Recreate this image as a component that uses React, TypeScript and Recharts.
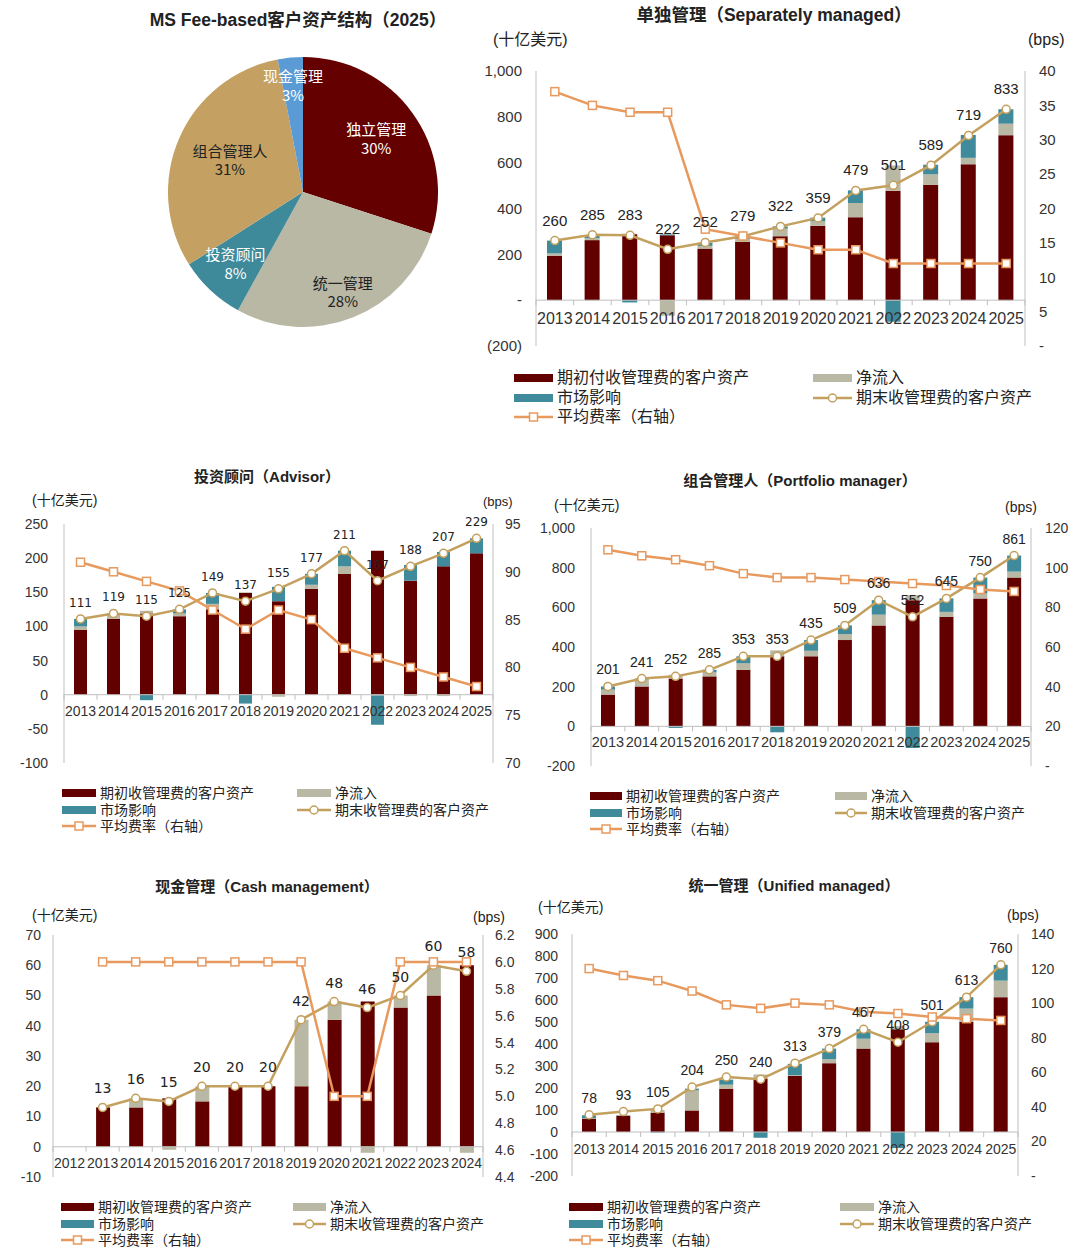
import React from "react";
import { ComposedChart, Bar, Line, XAxis, YAxis, ReferenceLine, LabelList, PieChart, Pie, Cell } from "recharts";

// ---------- 数据 ----------
const years = ["2013", "2014", "2015", "2016", "2017", "2018", "2019", "2020", "2021", "2022", "2023", "2024", "2025"];
const cashYears = ["2012", "2013", "2014", "2015", "2016", "2017", "2018", "2019", "2020", "2021", "2022", "2023", "2024"];

const pieNames = ["独立管理", "统一管理", "投资顾问", "组合管理人", "现金管理"];
const pieValues = [30, 28, 8, 31, 3];

// 单独管理
const smaBegin = [194, 262, 288, 283, 225, 254, 279, 324, 362, 478, 504, 593, 720];
const smaNet = [10, 8, 2, -68, 12, 14, 33, 20, 62, 110, 45, 28, 50];
const smaMarket = [56, 10, -10, 4, 13, 10, 10, 16, 55, -94, 42, 100, 63];
const smaEnd = [260, 285, 283, 222, 252, 279, 322, 359, 479, 501, 589, 719, 833];
const smaFee = [37, 35, 34, 34, 17, 16, 15, 14, 14, 12, 12, 12, 12];

// 投资顾问
const advBegin = [95, 111, 119, 115, 125, 149, 137, 155, 177, 211, 167, 188, 207];
const advNet = [5, 6, 4, 4, 8, 1, -3, 6, 11, -1, -2, -2, 0];
const advMarket = [11, 2, -8, 6, 16, -13, 21, 16, 23, -43, 23, 21, 22];
const advEnd = [111, 119, 115, 125, 149, 137, 155, 177, 211, 167, 188, 207, 229];
const advFee = [91, 90, 89, 88, 86, 84, 86, 85, 82, 81, 80, 79, 78];

// 组合管理人
const pmBegin = [160, 201, 241, 252, 285, 353, 353, 435, 509, 636, 552, 645, 750];
const pmNet = [25, 35, 19, 20, 33, 30, 28, 30, 54, 25, 25, 25, 30];
const pmMarket = [16, 5, -8, 13, 35, -30, 54, 44, 73, -109, 68, 80, 81];
const pmEnd = [201, 241, 252, 285, 353, 353, 435, 509, 636, 552, 645, 750, 861];
const pmFee = [109, 106, 104, 101, 97, 95, 95, 94, 93, 92, 91, 89, 88];

// 现金管理
const cashBegin = [null, 13, 13, 16, 15, 20, 20, 20, 42, 48, 46, 50, 60];
const cashNet = [null, 0, 3, -1, 5, 0, 0, 22, 6, -2, 4, 10, -2];
const cashMarket = [null, 0, 0, 0, 0, 0, 0, 0, 0, 0, 0, 0, 0];
const cashEnd = [null, 13, 16, 15, 20, 20, 20, 42, 48, 46, 50, 60, 58];
const cashFee = [null, 6, 6, 6, 6, 6, 6, 6, 5, 5, 6, 6, 6];

// 统一管理
const umaBegin = [60, 74, 88, 98, 197, 243, 255, 313, 379, 467, 408, 501, 613];
const umaNet = [2, 2, 12, 91, 18, 18, 3, 18, 45, 14, 41, 60, 75];
const umaMarket = [14, 1, -3, 8, 23, -26, 52, 48, 43, -73, 52, 52, 72];
const umaEnd = [78, 93, 105, 204, 250, 240, 313, 379, 467, 408, 501, 613, 760];
const umaFee = [120, 116, 113, 107, 99, 97, 100, 99, 95, 94, 92, 91, 90];

// ---------- 样式 ----------
const FONT_LAT = "'Liberation Sans', Arial, 'Noto Sans CJK SC', sans-serif";
const FONT_CJK = "'Noto Sans CJK SC', 'Liberation Sans', sans-serif";
const FONT_DV = "'DejaVu Sans', sans-serif";

const COL = {
  begin: "#620000",
  net: "#b9b8a5",
  market: "#3f8a9b",
  end: "#c3a05d",
  fee: "#e7995e",
  axis: "#bfbfbf",
  text: "#333333",
};

const pieColors = ["#640000", "#b9b8a5", "#3e8a9a", "#c4a162", "#5b9bd5"];
const pieLabelR = [0.67, 0.8, 0.73, 0.59, 0.79];
const pieLabelColor = ["#ffffff", "#222222", "#ffffff", "#222222", "#ffffff"];

type Num = number | null;
type Row = { year: string; begin: Num; net: Num; market: Num; end: Num; fee: Num };

const toRows = (cats: string[], b: Num[], n: Num[], m: Num[], e: Num[], f: Num[]): Row[] =>
  cats.map((year, i) => ({ year, begin: b[i], net: n[i], market: m[i], end: e[i], fee: f[i] }));

const dash = (v: number) => (v === 0 ? "-" : String(v));
const smaLeftFmt = (v: number) => (v === 0 ? "-" : v < 0 ? `(${-v})` : v.toLocaleString("en-US"));
const commaFmt = (v: number) => v.toLocaleString("en-US");

type Axis = { domain: [number, number]; ticks: number[]; fmt?: (v: number) => string; gap: number };
type ComboProps = {
  data: Row[];
  x1: number; x2: number; y1: number; y2: number;
  left: Axis; right: Axis;
  barSize: number; catSize: number; catDy: number; tickSize: number;
  labelFont: string; labelSize: number; labelOffset: number;
};

const MT = 14, MB = 14, LW = 70, RW = 70;

const circleDot = (d: any) =>
  d.value == null || d.cy == null ? <g key={`e${d.index}`} /> :
    <circle key={`e${d.index}`} cx={d.cx} cy={d.cy} r={4} fill="#fff" stroke={COL.end} strokeWidth={1.5} />;

const squareDot = (d: any) =>
  d.value == null || d.cy == null ? <g key={`f${d.index}`} /> :
    <rect key={`f${d.index}`} x={d.cx - 4} y={d.cy - 4} width={8} height={8} fill="#fff" stroke={COL.fee} strokeWidth={1.5} />;

function Combo(p: ComboProps) {
  const plotW = p.x2 - p.x1;
  const plotH = p.y2 - p.y1;
  const [lo, hi] = p.left.domain;
  const zeroY = MT + (plotH * hi) / (hi - lo);
  const n = p.data.length;
  const band = plotW / n;

  const catTick = (t: any) => (
    <g key={`c${t.index}`}>
      <line x1={t.x - band / 2} x2={t.x - band / 2} y1={zeroY} y2={zeroY + 5} stroke={COL.axis} />
      {t.index === n - 1 && <line x1={t.x + band / 2} x2={t.x + band / 2} y1={zeroY} y2={zeroY + 5} stroke={COL.axis} />}
      <text x={t.x} y={zeroY + p.catDy} dy="0.35em" textAnchor="middle" fontSize={p.catSize} fill={COL.text} fontFamily={FONT_LAT}>
        {t.payload.value}
      </text>
    </g>
  );

  const tickStyle = { fontSize: p.tickSize, fill: COL.text, fontFamily: FONT_LAT };

  return (
    <div style={{ position: "absolute", left: p.x1 - LW, top: p.y1 - MT }}>
      <ComposedChart
        width={plotW + LW + RW}
        height={plotH + MT + MB}
        data={p.data}
        stackOffset="sign"
        margin={{ top: MT, right: 0, bottom: MB - 1, left: 0 }}
      >
        <XAxis dataKey="year" height={1} axisLine={false} tickLine={false} interval={0} tick={catTick} />
        <YAxis yAxisId="l" orientation="left" width={LW} domain={p.left.domain} ticks={p.left.ticks} interval={0}
          tickFormatter={p.left.fmt} axisLine={{ stroke: COL.axis }} tickLine={false} tickSize={0} tickMargin={p.left.gap}
          tick={tickStyle} allowDataOverflow />
        <YAxis yAxisId="r" orientation="right" width={RW} domain={p.right.domain} ticks={p.right.ticks} interval={0}
          tickFormatter={p.right.fmt} axisLine={{ stroke: COL.axis }} tickLine={false} tickSize={0} tickMargin={p.right.gap}
          tick={tickStyle} allowDataOverflow />
        <ReferenceLine yAxisId="l" y={0} stroke={COL.axis} />
        <Bar yAxisId="l" dataKey="begin" stackId="s" fill={COL.begin} barSize={p.barSize} isAnimationActive={false} />
        <Bar yAxisId="l" dataKey="net" stackId="s" fill={COL.net} barSize={p.barSize} isAnimationActive={false} />
        <Bar yAxisId="l" dataKey="market" stackId="s" fill={COL.market} barSize={p.barSize} isAnimationActive={false} />
        <Line yAxisId="l" dataKey="end" type="linear" stroke={COL.end} strokeWidth={2.5} dot={circleDot} activeDot={false} isAnimationActive={false}>
          <LabelList dataKey="end" position="top" offset={p.labelOffset} fill="#222" fontSize={p.labelSize} fontFamily={p.labelFont} />
        </Line>
        <Line yAxisId="r" dataKey="fee" type="linear" stroke={COL.fee} strokeWidth={2.5} dot={squareDot} activeDot={false} isAnimationActive={false} />
      </ComposedChart>
    </div>
  );
}

type TxtProps = { x: number; y: number; size: number; bold?: boolean; align?: "left" | "center" | "right"; font?: string; children: React.ReactNode };
function Txt({ x, y, size, bold, align = "left", font = FONT_LAT, children }: TxtProps) {
  const w = 600;
  const left = align === "left" ? x : align === "center" ? x - w / 2 : x - w;
  return (
    <div style={{
      position: "absolute", left, top: y - size * 0.6, width: w, height: size * 1.2, lineHeight: `${size * 1.2}px`,
      fontSize: size, fontWeight: bold ? 700 : 400, textAlign: align, fontFamily: font, color: "#222", whiteSpace: "nowrap",
    }}>{children}</div>
  );
}

type LegendProps = { lx: number; rx: number; y0: number; gap: number; sw: number; size: number; first: string };
function ComboLegend({ lx, rx, y0, gap, sw, size, first }: LegendProps) {
  const items = [
    { x: lx, y: y0, kind: "bar", color: COL.begin, label: first },
    { x: rx, y: y0, kind: "bar", color: COL.net, label: "净流入" },
    { x: lx, y: y0 + gap, kind: "bar", color: COL.market, label: "市场影响" },
    { x: rx, y: y0 + gap, kind: "circle", color: COL.end, label: "期末收管理费的客户资产" },
    { x: lx, y: y0 + 2 * gap, kind: "square", color: COL.fee, label: "平均费率（右轴）" },
  ];
  const h = Math.min(16, gap);
  return (
    <>
      {items.map((it, i) => (
        <div key={i} style={{ position: "absolute", left: it.x, top: it.y - h / 2, height: h, display: "flex", alignItems: "center", whiteSpace: "nowrap" }}>
          <svg width={sw} height={12} style={{ display: "block" }}>
            {it.kind === "bar" && <rect x={0} y={2} width={sw} height={8} fill={it.color} />}
            {it.kind !== "bar" && <line x1={0} x2={sw} y1={6} y2={6} stroke={it.color} strokeWidth={2.5} />}
            {it.kind === "circle" && <circle cx={sw / 2} cy={6} r={4} fill="#fff" stroke={it.color} strokeWidth={1.5} />}
            {it.kind === "square" && <rect x={sw / 2 - 4} y={2} width={8} height={8} fill="#fff" stroke={it.color} strokeWidth={1.5} />}
          </svg>
          <span style={{
            display: "block", height: h, lineHeight: `${h}px`, overflow: "visible",
            marginLeft: 4, fontSize: size, fontFamily: FONT_LAT, color: "#222",
          }}>{it.label}</span>
        </div>
      ))}
    </>
  );
}

const RAD = Math.PI / 180;
const pieLabel = (d: any) => {
  const r = d.outerRadius * pieLabelR[d.index];
  const x = d.cx + r * Math.cos(-d.midAngle * RAD);
  const y = d.cy + r * Math.sin(-d.midAngle * RAD);
  return (
    <text key={`pl${d.index}`} x={x} y={y} textAnchor="middle" fill={pieLabelColor[d.index]} fontSize={15} fontFamily={FONT_CJK}>
      <tspan x={x} dy="-0.25em">{d.name}</tspan>
      <tspan x={x} dy="1.25em">{`${d.value}%`}</tspan>
    </text>
  );
};

const pieData = pieNames.map((name, i) => ({ name, value: pieValues[i] }));

const smaRows = toRows(years, smaBegin, smaNet, smaMarket, smaEnd, smaFee);
const advRows = toRows(years, advBegin, advNet, advMarket, advEnd, advFee);
const pmRows = toRows(years, pmBegin, pmNet, pmMarket, pmEnd, pmFee);
const cashRows = toRows(cashYears, cashBegin, cashNet, cashMarket, cashEnd, cashFee);
const umaRows = toRows(years, umaBegin, umaNet, umaMarket, umaEnd, umaFee);

export default function App() {
  return (
    <div style={{ position: "absolute", left: 0, top: 0, width: 1080, height: 1257, background: "#fff", overflow: "hidden" }}>
      {/* 饼图 */}
      <Txt x={298} y={20} size={17.5} bold align="center">MS Fee-based客户资产结构（2025）</Txt>
      <div style={{ position: "absolute", left: 153, top: 42 }}>
        <PieChart width={300} height={300} margin={{ top: 0, right: 0, bottom: 0, left: 0 }}>
          <Pie data={pieData} dataKey="value" nameKey="name" cx={150} cy={150} outerRadius={135} startAngle={90} endAngle={-270}
            stroke="none" label={pieLabel} labelLine={false} isAnimationActive={false}>
            {pieData.map((d, i) => <Cell key={d.name} fill={pieColors[i]} />)}
          </Pie>
        </PieChart>
      </div>

      {/* 单独管理 */}
      <Txt x={774} y={15} size={17.5} bold align="center">单独管理（Separately managed）</Txt>
      <Txt x={493} y={40} size={16}>(十亿美元)</Txt>
      <Txt x={1028} y={40} size={16}>(bps)</Txt>
      <Combo data={smaRows} x1={536} x2={1025} y1={70.7} y2={345.7}
        left={{ domain: [-200, 1000], ticks: [-200, 0, 200, 400, 600, 800, 1000], fmt: smaLeftFmt, gap: 14 }}
        right={{ domain: [0, 40], ticks: [0, 5, 10, 15, 20, 25, 30, 35, 40], fmt: dash, gap: 14 }}
        barSize={15} catSize={16} catDy={18} tickSize={15} labelFont={FONT_LAT} labelSize={15} labelOffset={15} />
      <ComboLegend lx={514} rx={813} y0={378} gap={19.5} sw={39} size={16} first="期初付收管理费的客户资产" />

      {/* 投资顾问 */}
      <Txt x={267} y={477} size={15} bold align="center">投资顾问（Advisor）</Txt>
      <Txt x={32} y={500} size={14}>(十亿美元)</Txt>
      <Txt x={483} y={502} size={13}>(bps)</Txt>
      <Combo data={advRows} x1={64} x2={493} y1={524} y2={763}
        left={{ domain: [-100, 250], ticks: [-100, -50, 0, 50, 100, 150, 200, 250], gap: 16 }}
        right={{ domain: [70, 95], ticks: [70, 75, 80, 85, 90, 95], gap: 12 }}
        barSize={13} catSize={14} catDy={16} tickSize={14} labelFont={FONT_DV} labelSize={12} labelOffset={12} />
      <ComboLegend lx={62} rx={297} y0={793} gap={16.5} sw={34} size={14} first="期初收管理费的客户资产" />

      {/* 组合管理人 */}
      <Txt x={800} y={481} size={15} bold align="center">组合管理人（Portfolio manager）</Txt>
      <Txt x={554} y={505} size={14}>(十亿美元)</Txt>
      <Txt x={1005} y={507} size={14}>(bps)</Txt>
      <Combo data={pmRows} x1={591} x2={1031} y1={528} y2={766}
        left={{ domain: [-200, 1000], ticks: [-200, 0, 200, 400, 600, 800, 1000], fmt: commaFmt, gap: 16 }}
        right={{ domain: [0, 120], ticks: [0, 20, 40, 60, 80, 100, 120], fmt: dash, gap: 14 }}
        barSize={14} catSize={14.5} catDy={16} tickSize={14} labelFont={FONT_LAT} labelSize={14} labelOffset={12} />
      <ComboLegend lx={590} rx={835} y0={796} gap={16.5} sw={32} size={14} first="期初收管理费的客户资产" />

      {/* 现金管理 */}
      <Txt x={267} y={887} size={15} bold align="center">现金管理（Cash management）</Txt>
      <Txt x={32} y={915} size={14}>(十亿美元)</Txt>
      <Txt x={473} y={917} size={14}>(bps)</Txt>
      <Combo data={cashRows} x1={53} x2={483} y1={935} y2={1177}
        left={{ domain: [-10, 70], ticks: [-10, 0, 10, 20, 30, 40, 50, 60, 70], gap: 12 }}
        right={{ domain: [4.4, 6.2], ticks: [4.4, 4.6, 4.8, 5.0, 5.2, 5.4, 5.6, 5.8, 6.0, 6.2], fmt: (v: number) => v.toFixed(1), gap: 12 }}
        barSize={14} catSize={14} catDy={16} tickSize={14} labelFont={FONT_DV} labelSize={14} labelOffset={14} />
      <ComboLegend lx={61} rx={293} y0={1207} gap={16.5} sw={33} size={14} first="期初收管理费的客户资产" />

      {/* 统一管理 */}
      <Txt x={794} y={886} size={15} bold align="center">统一管理（Unified managed）</Txt>
      <Txt x={538} y={907} size={14}>(十亿美元)</Txt>
      <Txt x={1007} y={915} size={14}>(bps)</Txt>
      <Combo data={umaRows} x1={572} x2={1018} y1={934} y2={1176}
        left={{ domain: [-200, 900], ticks: [-200, -100, 0, 100, 200, 300, 400, 500, 600, 700, 800, 900], gap: 14 }}
        right={{ domain: [0, 140], ticks: [0, 20, 40, 60, 80, 100, 120, 140], fmt: dash, gap: 13 }}
        barSize={14} catSize={14} catDy={17} tickSize={14} labelFont={FONT_LAT} labelSize={14} labelOffset={12} />
      <ComboLegend lx={569} rx={840} y0={1207} gap={16.5} sw={34} size={14} first="期初收管理费的客户资产" />
    </div>
  );
}
